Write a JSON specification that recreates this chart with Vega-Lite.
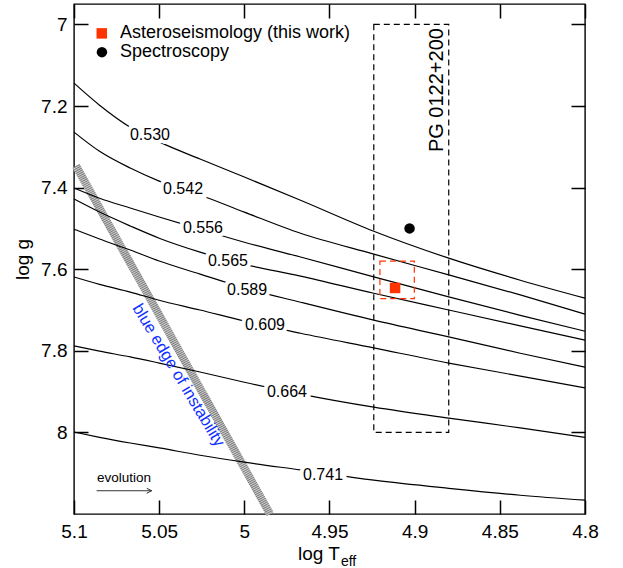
{
  "$schema": "https://vega.github.io/schema/vega-lite/v6.json",
  "width": 511,
  "height": 510,
  "autosize": {"type": "none"},
  "padding": {"left": 74, "top": 4, "right": 38, "bottom": 54},
  "config": {
    "font": "Liberation Sans",
    "view": {"stroke": "black", "strokeWidth": 1.4},
    "axis": {"grid": false, "domain": false, "labelFontSize": 19, "titleFontSize": 19, "titleFontWeight": "normal", "labelColor": "black", "titleColor": "black"}
  },
  "layer": [
    {
      "data": {"values": [{"logT":5.0988,"logg":7.347},{"logT":4.9849,"logg":8.2}]},
      "mark": {"type": "line", "color": "#d0d0d0", "strokeWidth": 8, "strokeCap": "butt"},
      "encoding": {
        "x": {"field": "logT", "type": "quantitative",
          "scale": {"domain": [4.8, 5.1], "reverse": true, "zero": false, "nice": false},
          "axis": {"orient": "bottom", "values": [4.8,4.85,4.9,4.95,5,5.05,5.1], "format": "~g",
            "tickSize": -14, "tickColor": "black", "tickWidth": 1.5, "labelPadding": 22, "labelFlush": false,
            "title": "log T", "titleX": 244.5, "titleY": 45, "titleBaseline": "alphabetic", "titleAlign": "center"}},
        "y": {"field": "logg", "type": "quantitative",
          "scale": {"domain": [6.95, 8.2], "reverse": true, "zero": false, "nice": false},
          "axis": {"orient": "left", "values": [7,7.2,7.4,7.6,7.8,8], "format": "~g",
            "tickSize": -14, "tickColor": "black", "tickWidth": 1.5, "labelPadding": 21, "labelFlush": false,
            "title": "log g", "titlePadding": 8}}
      }
    },
    {
      "data": {"values": [{"logT":5.0988,"logg":7.347},{"logT":4.9849,"logg":8.2}]},
      "mark": {"type": "line", "color": "#7a7a7a", "strokeWidth": 8, "strokeCap": "butt", "strokeDash": [1, 1]},
      "encoding": {
        "x": {"field": "logT", "type": "quantitative", "axis": null},
        "y": {"field": "logg", "type": "quantitative", "axis": null}
      }
    },
    {
      "data": {"values": [
        {"m":"0.530","logT":5.1,"logg":7.144},{"m":"0.530","logT":5.085,"logg":7.198},{"m":"0.530","logT":5.067,"logg":7.252},{"m":"0.530","logT":5.05,"logg":7.288},{"m":"0.530","logT":5.026,"logg":7.330},{"m":"0.530","logT":5.0,"logg":7.374},{"m":"0.530","logT":4.967,"logg":7.431},{"m":"0.530","logT":4.924,"logg":7.507},{"m":"0.530","logT":4.88,"logg":7.573},{"m":"0.530","logT":4.838,"logg":7.627},{"m":"0.530","logT":4.8,"logg":7.671},
        {"m":"0.542","logT":5.1,"logg":7.264},{"m":"0.542","logT":5.085,"logg":7.311},{"m":"0.542","logT":5.067,"logg":7.352},{"m":"0.542","logT":5.05,"logg":7.384},{"m":"0.542","logT":5.026,"logg":7.418},{"m":"0.542","logT":5.0,"logg":7.460},{"m":"0.542","logT":4.967,"logg":7.512},{"m":"0.542","logT":4.924,"logg":7.563},{"m":"0.542","logT":4.88,"logg":7.614},{"m":"0.542","logT":4.838,"logg":7.663},{"m":"0.542","logT":4.8,"logg":7.710},
        {"m":"0.556","logT":5.1,"logg":7.401},{"m":"0.556","logT":5.085,"logg":7.426},{"m":"0.556","logT":5.067,"logg":7.450},{"m":"0.556","logT":5.05,"logg":7.472},{"m":"0.556","logT":5.026,"logg":7.502},{"m":"0.556","logT":5.0,"logg":7.534},{"m":"0.556","logT":4.967,"logg":7.570},{"m":"0.556","logT":4.924,"logg":7.619},{"m":"0.556","logT":4.88,"logg":7.668},{"m":"0.556","logT":4.838,"logg":7.713},{"m":"0.556","logT":4.8,"logg":7.752},
        {"m":"0.565","logT":5.1,"logg":7.428},{"m":"0.565","logT":5.085,"logg":7.460},{"m":"0.565","logT":5.067,"logg":7.494},{"m":"0.565","logT":5.05,"logg":7.524},{"m":"0.565","logT":5.026,"logg":7.558},{"m":"0.565","logT":5.0,"logg":7.588},{"m":"0.565","logT":4.967,"logg":7.617},{"m":"0.565","logT":4.924,"logg":7.659},{"m":"0.565","logT":4.88,"logg":7.700},{"m":"0.565","logT":4.838,"logg":7.739},{"m":"0.565","logT":4.8,"logg":7.774},
        {"m":"0.589","logT":5.1,"logg":7.502},{"m":"0.589","logT":5.085,"logg":7.526},{"m":"0.589","logT":5.067,"logg":7.553},{"m":"0.589","logT":5.05,"logg":7.580},{"m":"0.589","logT":5.026,"logg":7.612},{"m":"0.589","logT":5.0,"logg":7.646},{"m":"0.589","logT":4.967,"logg":7.681},{"m":"0.589","logT":4.924,"logg":7.725},{"m":"0.589","logT":4.88,"logg":7.766},{"m":"0.589","logT":4.838,"logg":7.806},{"m":"0.589","logT":4.8,"logg":7.840},
        {"m":"0.609","logT":5.1,"logg":7.619},{"m":"0.609","logT":5.085,"logg":7.637},{"m":"0.609","logT":5.067,"logg":7.656},{"m":"0.609","logT":5.05,"logg":7.676},{"m":"0.609","logT":5.026,"logg":7.700},{"m":"0.609","logT":5.0,"logg":7.727},{"m":"0.609","logT":4.967,"logg":7.757},{"m":"0.609","logT":4.924,"logg":7.793},{"m":"0.609","logT":4.88,"logg":7.830},{"m":"0.609","logT":4.838,"logg":7.862},{"m":"0.609","logT":4.8,"logg":7.891},
        {"m":"0.664","logT":5.1,"logg":7.788},{"m":"0.664","logT":5.085,"logg":7.801},{"m":"0.664","logT":5.067,"logg":7.815},{"m":"0.664","logT":5.05,"logg":7.830},{"m":"0.664","logT":5.026,"logg":7.852},{"m":"0.664","logT":5.0,"logg":7.877},{"m":"0.664","logT":4.967,"logg":7.906},{"m":"0.664","logT":4.924,"logg":7.938},{"m":"0.664","logT":4.88,"logg":7.965},{"m":"0.664","logT":4.838,"logg":7.989},{"m":"0.664","logT":4.8,"logg":8.012},
        {"m":"0.741","logT":5.1,"logg":7.999},{"m":"0.741","logT":5.085,"logg":8.012},{"m":"0.741","logT":5.067,"logg":8.026},{"m":"0.741","logT":5.05,"logg":8.038},{"m":"0.741","logT":5.026,"logg":8.056},{"m":"0.741","logT":5.0,"logg":8.073},{"m":"0.741","logT":4.967,"logg":8.092},{"m":"0.741","logT":4.924,"logg":8.117},{"m":"0.741","logT":4.88,"logg":8.137},{"m":"0.741","logT":4.838,"logg":8.154},{"m":"0.741","logT":4.8,"logg":8.166}
      ]},
      "mark": {"type": "line", "color": "black", "strokeWidth": 1.2, "interpolate": "monotone"},
      "encoding": {
        "x": {"field": "logT", "type": "quantitative", "axis": null},
        "y": {"field": "logg", "type": "quantitative", "axis": null},
        "detail": {"field": "m"}
      }
    },
    {
      "data": {"values": [
        {"m":"0.530","logT":5.0554,"logg":7.271},
        {"m":"0.542","logT":5.036,"logg":7.404},
        {"m":"0.556","logT":5.0243,"logg":7.499},
        {"m":"0.565","logT":5.0096,"logg":7.580},
        {"m":"0.589","logT":4.9984,"logg":7.651},
        {"m":"0.609","logT":4.9879,"logg":7.737},
        {"m":"0.664","logT":4.975,"logg":7.901},
        {"m":"0.741","logT":4.9538,"logg":8.105}
      ]},
      "mark": {"type": "text", "fontSize": 16, "fill": "white", "stroke": "white", "strokeWidth": 8, "baseline": "middle", "align": "center"},
      "encoding": {
        "x": {"field": "logT", "type": "quantitative", "axis": null},
        "y": {"field": "logg", "type": "quantitative", "axis": null},
        "text": {"field": "m"}
      }
    },
    {
      "data": {"values": [
        {"m":"0.530","logT":5.0554,"logg":7.271},
        {"m":"0.542","logT":5.036,"logg":7.404},
        {"m":"0.556","logT":5.0243,"logg":7.499},
        {"m":"0.565","logT":5.0096,"logg":7.580},
        {"m":"0.589","logT":4.9984,"logg":7.651},
        {"m":"0.609","logT":4.9879,"logg":7.737},
        {"m":"0.664","logT":4.975,"logg":7.901},
        {"m":"0.741","logT":4.9538,"logg":8.105}
      ]},
      "mark": {"type": "text", "fontSize": 16, "color": "black", "baseline": "middle", "align": "center"},
      "encoding": {
        "x": {"field": "logT", "type": "quantitative", "axis": null},
        "y": {"field": "logg", "type": "quantitative", "axis": null},
        "text": {"field": "m"}
      }
    },
    {
      "data": {"values": [{"logT":4.924,"logT2":4.880,"logg":7.0,"logg2":8.0}]},
      "mark": {"type": "rect", "fillOpacity": 0, "stroke": "black", "strokeWidth": 1.2, "strokeDash": [6, 4]},
      "encoding": {
        "x": {"field": "logT", "type": "quantitative", "axis": null},
        "x2": {"field": "logT2"},
        "y": {"field": "logg", "type": "quantitative", "axis": null},
        "y2": {"field": "logg2"}
      }
    },
    {
      "data": {"values": [{"logT":4.9204,"logT2":4.9002,"logg":7.580,"logg2":7.672}]},
      "mark": {"type": "rect", "fillOpacity": 0, "stroke": "#ff3300", "strokeWidth": 1.2, "strokeDash": [6, 4]},
      "encoding": {
        "x": {"field": "logT", "type": "quantitative", "axis": null},
        "x2": {"field": "logT2"},
        "y": {"field": "logg", "type": "quantitative", "axis": null},
        "y2": {"field": "logg2"}
      }
    },
    {
      "data": {"values": [
        {"method":"Asteroseismology (this work)","logT":4.9115,"logg":7.646},
        {"method":"Spectroscopy","logT":4.903,"logg":7.5},
        {"method":"Asteroseismology (this work)","logT":5.0837,"logg":7.022},
        {"method":"Spectroscopy","logT":5.0836,"logg":7.068}
      ]},
      "mark": {"type": "point", "filled": true, "opacity": 1, "size": 110},
      "encoding": {
        "x": {"field": "logT", "type": "quantitative", "axis": null},
        "y": {"field": "logg", "type": "quantitative", "axis": null},
        "color": {"field": "method", "type": "nominal", "legend": null,
          "scale": {"domain": ["Asteroseismology (this work)", "Spectroscopy"], "range": ["#ff3300", "black"]}},
        "shape": {"field": "method", "type": "nominal", "legend": null,
          "scale": {"domain": ["Asteroseismology (this work)", "Spectroscopy"], "range": ["square", "circle"]}}
      }
    },
    {
      "data": {"values": [
        {"t":"Asteroseismology (this work)","logT":5.073,"logg":7.022},
        {"t":"Spectroscopy","logT":5.073,"logg":7.068}
      ]},
      "mark": {"type": "text", "fontSize": 18, "color": "black", "align": "left", "baseline": "middle"},
      "encoding": {
        "x": {"field": "logT", "type": "quantitative", "axis": null},
        "y": {"field": "logg", "type": "quantitative", "axis": null},
        "text": {"field": "t"}
      }
    },
    {
      "data": {"values": [{"t":"blue edge of instability","logT":5.0387,"logg":7.86}]},
      "mark": {"type": "text", "angle": 59, "fontSize": 16.5, "color": "#1030ff", "align": "center", "baseline": "middle"},
      "encoding": {
        "x": {"field": "logT", "type": "quantitative", "axis": null},
        "y": {"field": "logg", "type": "quantitative", "axis": null},
        "text": {"field": "t"}
      }
    },
    {
      "data": {"values": [{"t":"PG 0122+200","logT":4.8869,"logg":7.161}]},
      "mark": {"type": "text", "angle": 270, "fontSize": 20, "color": "black", "align": "center", "baseline": "middle"},
      "encoding": {
        "x": {"field": "logT", "type": "quantitative", "axis": null},
        "y": {"field": "logg", "type": "quantitative", "axis": null},
        "text": {"field": "t"}
      }
    },
    {
      "data": {"values": [{"t":"evolution","logT":5.0706,"logg":8.112}]},
      "mark": {"type": "text", "fontSize": 13.5, "color": "black", "align": "center", "baseline": "middle"},
      "encoding": {
        "x": {"field": "logT", "type": "quantitative", "axis": null},
        "y": {"field": "logg", "type": "quantitative", "axis": null},
        "text": {"field": "t"}
      }
    },
    {
      "data": {"values": [{"logT":5.0867,"logT2":5.0544,"logg":8.143}]},
      "mark": {"type": "rule", "color": "#333333", "strokeWidth": 1},
      "encoding": {
        "x": {"field": "logT", "type": "quantitative", "axis": null},
        "x2": {"field": "logT2"},
        "y": {"field": "logg", "type": "quantitative", "axis": null}
      }
    },
    {
      "data": {"values": [{"logT":5.0544,"logg":8.143}]},
      "mark": {"type": "point", "shape": "M -1 -0.5 L 0 0 L -1 0.5", "filled": false, "stroke": "#333333", "strokeWidth": 1, "size": 100, "opacity": 1},
      "encoding": {
        "x": {"field": "logT", "type": "quantitative", "axis": null},
        "y": {"field": "logg", "type": "quantitative", "axis": null}
      }
    },
    {
      "data": {"values": [{"t":"eff","logT":4.9433,"logg":8.3281}]},
      "mark": {"type": "text", "fontSize": 14, "color": "black", "align": "left", "baseline": "alphabetic"},
      "encoding": {
        "x": {"field": "logT", "type": "quantitative", "axis": null},
        "y": {"field": "logg", "type": "quantitative", "axis": null},
        "text": {"field": "t"}
      }
    },
    {
      "data": {"values": [{"logT":4.9,"logg":7.5}]},
      "mark": {"type": "point", "opacity": 0},
      "encoding": {
        "x": {"field": "logT", "type": "quantitative",
          "axis": {"orient": "top", "values": [4.8,4.85,4.9,4.95,5,5.05,5.1], "labels": false, "title": null, "tickSize": -14, "tickColor": "black", "tickWidth": 1.5}},
        "y": {"field": "logg", "type": "quantitative",
          "axis": {"orient": "right", "values": [7,7.2,7.4,7.6,7.8,8], "labels": false, "title": null, "tickSize": -14, "tickColor": "black", "tickWidth": 1.5}}
      }
    }
  ],
  "resolve": {"axis": {"x": "independent", "y": "independent"}}
}
